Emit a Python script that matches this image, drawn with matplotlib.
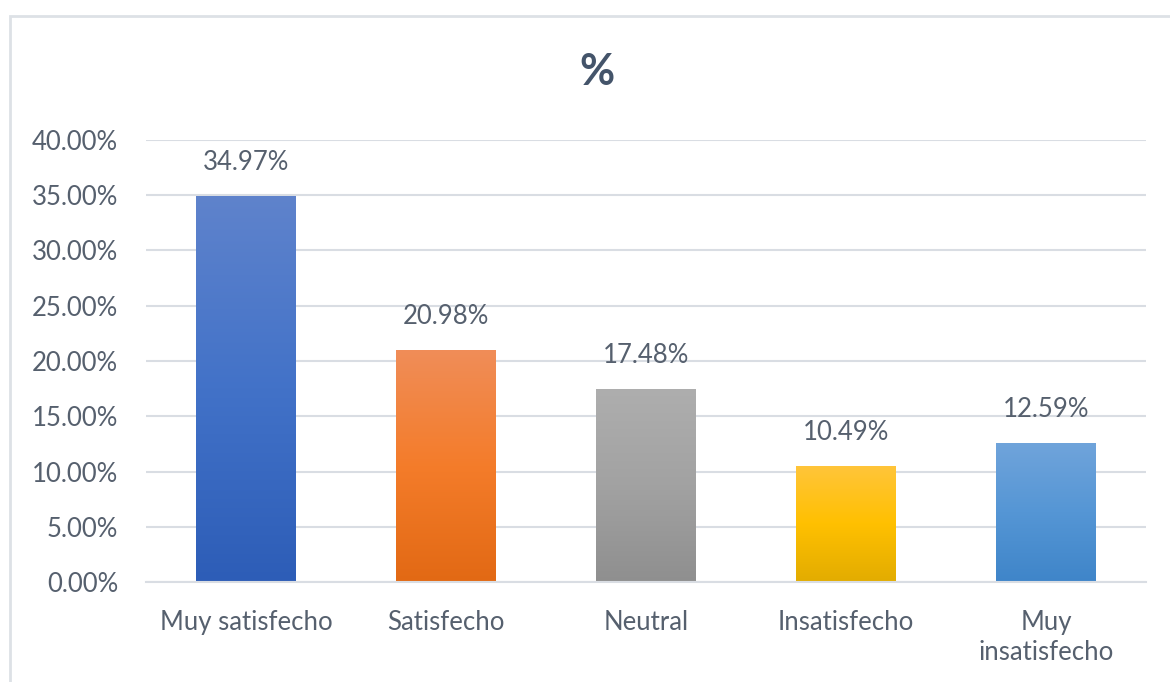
import numpy as np
import matplotlib.pyplot as plt
from matplotlib.colors import LinearSegmentedColormap
from matplotlib.patches import Rectangle
from matplotlib.ticker import FuncFormatter

categories = ["Muy satisfecho", "Satisfecho", "Neutral", "Insatisfecho", "Muy\ninsatisfecho"]
values = [0.3497, 0.2098, 0.1748, 0.1049, 0.1259]
# top, middle, bottom colours of each bar gradient
gradients = [
    ["#5F83CC", "#4272C8", "#2D5DB7"],
    ["#F08D58", "#F47C2A", "#E26914"],
    ["#AEAEAE", "#A2A2A2", "#8F8F8F"],
    ["#FFC53A", "#FFC000", "#E2AC00"],
    ["#70A4DB", "#5596D5", "#3F85C9"],
]

text_color = "#56606E"
title_color = "#44546A"
grid_color = "#D9DDE3"

plt.rcParams['font.family'] = ['Lato', 'DejaVu Sans']

fig = plt.figure(figsize=(11.7, 6.82), dpi=100)
ax = fig.add_axes([146/1170, 100/682, 1000/1170, 442/682])

x = np.arange(len(categories))
bars = ax.bar(x, values, width=0.5, color="none", zorder=2)

grad = np.linspace(0, 1, 256).reshape(-1, 1)
for bar, cols in zip(bars, gradients):
    cmap = LinearSegmentedColormap.from_list("g", cols[::-1])
    x0, y0 = bar.get_x(), bar.get_y()
    w, h = bar.get_width(), bar.get_height()
    im = ax.imshow(grad, cmap=cmap, origin="lower", aspect="auto",
                   extent=[x0, x0 + w, y0, y0 + h], zorder=2)
    im.set_clip_path(bar)

for xi, v in zip(x, values):
    ax.annotate(f"{v*100:.2f}%", (xi, v), xytext=(0, 24), textcoords="offset points",
                ha="center", va="center", fontsize=18.5, color=text_color)

ax.set_xlim(-0.5, len(categories) - 0.5)
ax.set_ylim(0, 0.40)
ax.set_yticks(np.arange(0, 0.401, 0.05))
ax.yaxis.set_major_formatter(FuncFormatter(lambda v, p: f"{v*100:.2f}%"))
ax.set_xticks(x)
ax.set_xticklabels(categories, fontsize=18.5, color=text_color, linespacing=1.25, va="top")
ax.tick_params(axis="y", labelsize=18.5, labelcolor=text_color, length=0, pad=20)
ax.tick_params(axis="x", length=0, pad=20)
ax.grid(axis="y", color=grid_color, linewidth=1.5, zorder=0)
ax.set_axisbelow(True)
for s in ["top", "right", "left"]:
    ax.spines[s].set_visible(False)
ax.spines["bottom"].set_color(grid_color)
ax.spines["bottom"].set_linewidth(1.5)

fig.text(597/1170, 1 - 72/682, "%", ha="center", va="center", fontsize=31,
         fontweight="bold", color=title_color)

fig.patches.append(Rectangle((10/1170, -0.05), 1.2, 1 - 16/682 + 0.05, transform=fig.transFigure,
                             fill=False, edgecolor="#DDE1E6", linewidth=2))

fig.savefig("out.png", dpi=100)
